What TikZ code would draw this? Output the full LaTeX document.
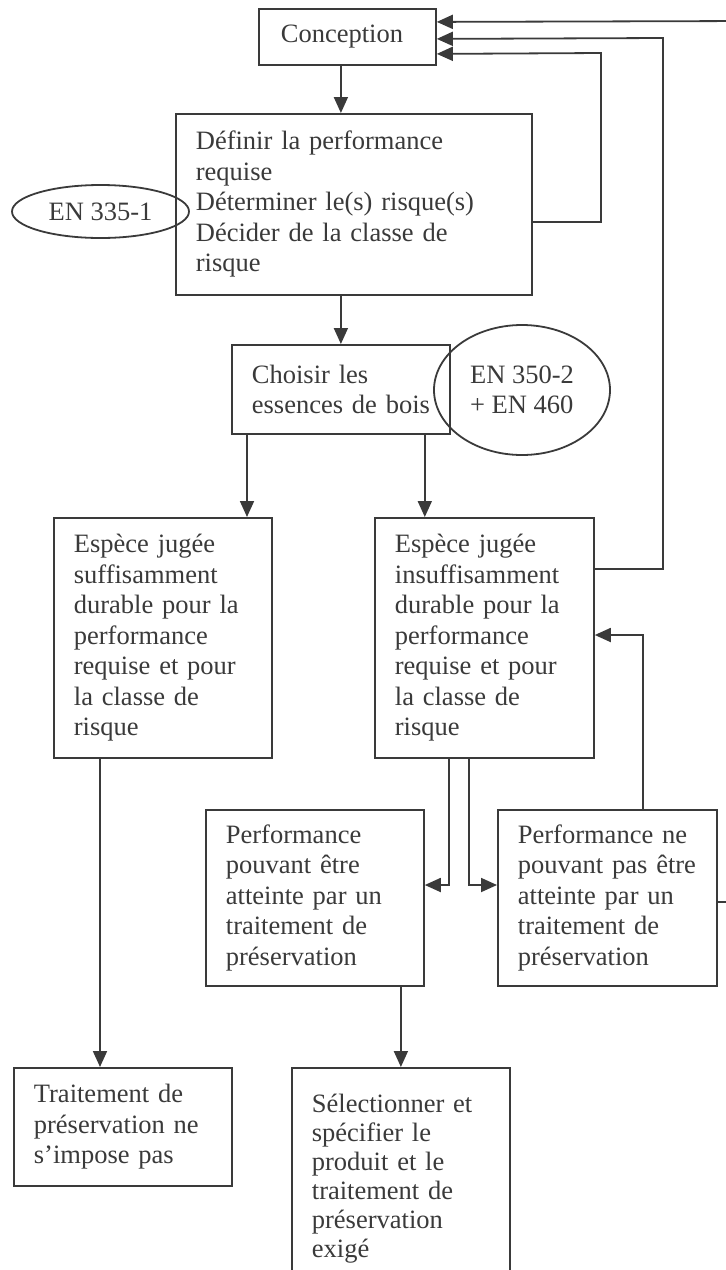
\documentclass[tikz,border=0pt]{standalone}
\usepackage{fontspec}
\setmainfont{Liberation Serif}
\usetikzlibrary{arrows.meta,shapes.geometric}
\definecolor{ink}{RGB}{58,58,58}
\tikzset{
  box/.style={draw=ink, text=ink, line width=1.8pt, anchor=north west, align=left,
    inner xsep=20pt, inner ysep=0pt, text width=178pt, minimum height=#1},
  oval/.style={draw=ink, text=ink, line width=1.8pt, ellipse, inner sep=0pt},
  arr/.style={draw=ink, line width=1.8pt, -{Triangle[length=16pt,width=14pt]}}
}

\begin{document}
\begin{tikzpicture}[x=1pt,y=-1pt,font=\fontsize{26.5}{30.5}\selectfont]
      \useasboundingbox (0,0) rectangle (726,1270);
      \clip (0,0) rectangle (726,1270);
      \node[box=56pt, text width=133pt, inner xsep=22pt] (C) at (258,8) {Conception};
      \node[box=181pt, text width=316pt] (D) at (175,113) {Définir la performance\\requise\\Déterminer le(s) risque(s)\\Décider de la classe de\\risque};
      \node[oval, minimum width=177pt, minimum height=53pt] (E1) at (100.5,211.5) {EN 335-1};
      \node[box=89pt] (B) at (231,344) {Choisir les\\essences~de~bois};
      \node[oval, minimum width=176pt, minimum height=130pt, align=left] (E2) at (522,390) {EN 350-2\\+ EN 460};
      \node[box=240pt] (S) at (53,517) {Espèce jugée\\suffisamment\\durable pour la\\performance\\requise et pour\\la classe de\\risque};
      \node[box=240pt, text width=179pt] (I) at (374,517) {Espèce jugée\\insuffisamment\\durable pour la\\performance\\requise et pour\\la classe de\\risque};
      \node[box=176pt] (P) at (205,809) {Performance\\pouvant être\\atteinte par un\\traitement de\\préservation};
      \node[box=176pt, text width=179pt] (N) at (497,809) {Performance ne\\pouvant pas être\\atteinte par un\\traitement de\\préservation};
      \node[box=118pt] (T) at (13,1067) {Traitement de\\préservation ne\\s’impose pas};
      \node[box=222pt, font=\fontsize{26.5}{29}\selectfont] (X) at (291,1067) {Sélectionner et\\spécifier le\\produit et le\\traitement de\\préservation\\exigé};
      \coordinate (ka) at (750,21);
      \coordinate (kb) at (663,38);
      \coordinate (kc) at (601,53);
      \coordinate (kd) at (643,635);
      \coordinate (ke) at (0,885);
      \draw[arr] (C.south -| B.north) -- (D.north -| B.north);
      \draw[arr] (D.south -| B.north) -- (B.north);
      \draw[arr] ([xshift=16]B.south west) -- ([xshift=16]B.south west |- S.north);
      \draw[arr] ([xshift=-26]B.south east) -- ([xshift=-26]B.south east |- I.north);
      \draw[arr] ([xshift=47]S.south west) -- ([xshift=47]S.south west |- T.north);
      \draw[arr] (P.south -| X.north) -- (X.north);
      \draw[arr] ([xshift=75]I.south west) |- (P.east |- ke);
      \draw[arr] ([xshift=95]I.south west) |- (N.west |- ke);
      \draw[arr] (N.north -| kd) |- (I.east |- kd);
      \draw[arr] ([yshift=-17.5]D.east) -| (kc) -- ([yshift=-17]C.east);
      \draw[arr] ([yshift=69]I.east) -| (kb) -- ([yshift=-2]C.east);
      \draw[arr] ([yshift=-4]N.east) -| (ka) -- ([yshift=15]C.east);
    \end{tikzpicture}
\end{document}
